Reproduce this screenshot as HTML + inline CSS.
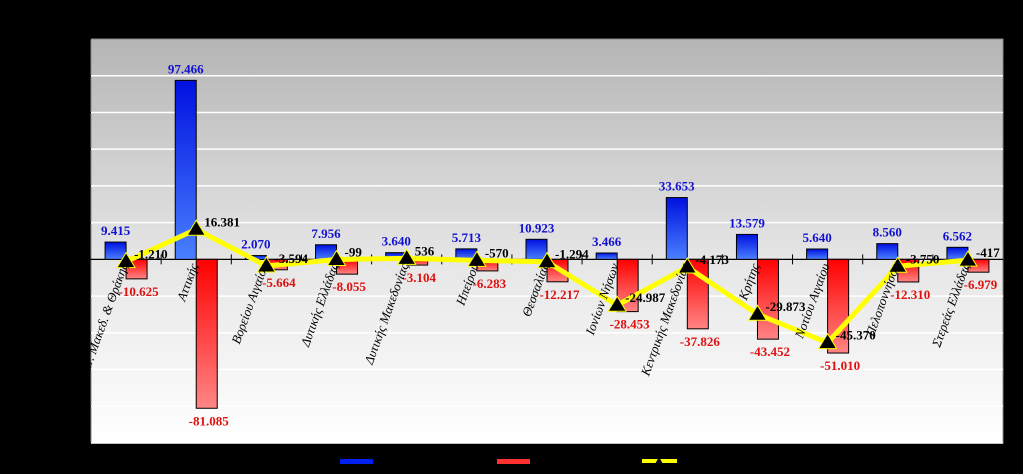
<!DOCTYPE html>
<html><head><meta charset="utf-8"><style>
html,body{margin:0;padding:0;background:#000;}
svg{display:block;font-family:"Liberation Serif","DejaVu Serif",serif;}
</style></head><body>
<svg id="chart" width="1023" height="474" viewBox="0 0 1023 474">
<defs>
<linearGradient id="bg" x1="0" y1="0" x2="0" y2="1"><stop offset="0" stop-color="#b5b5b5"/><stop offset="0.55" stop-color="#e6e6e6"/><stop offset="1" stop-color="#ffffff"/></linearGradient>
<linearGradient id="gb" x1="0" y1="0" x2="0" y2="1"><stop offset="0" stop-color="#0010e0"/><stop offset="1" stop-color="#4a80ff"/></linearGradient>
<linearGradient id="gr" x1="0" y1="0" x2="0" y2="1"><stop offset="0" stop-color="#ff0000"/><stop offset="1" stop-color="#ff8585"/></linearGradient>
</defs>
<rect x="91" y="39" width="912" height="404" fill="url(#bg)" stroke="#888"/>
<g id="grid"></g><g id="bars"></g><g id="line"></g><g id="labels"></g>
<g>
<rect x="340" y="459" width="33" height="5" fill="#0020f0"/>
<rect x="497" y="459" width="33" height="5" fill="#ff3030"/>
<rect x="642" y="459" width="35" height="4" fill="#ffff00"/>
<polygon points="659,457 655,464 663,464" fill="#000"/>
</g>
</svg>
<script>
const categories=["Αν. Μακεδ. & Θράκης","Αττικής","Βορείου Αιγαίου","Δυτικής Ελλάδας","Δυτικής Μακεδονίας","Ηπείρου","Θεσσαλίας","Ιονίων Νήσων","Κεντρικής Μακεδονίας","Κρήτης","Νοτίου Αιγαίου","Πελοποννήσου","Στερεάς Ελλάδας"];
const blueValues=[9415,97466,2070,7956,3640,5713,10923,3466,33653,13579,5640,8560,6562];
const redValues=[-10625,-81085,-5664,-8055,-3104,-6283,-12217,-28453,-37826,-43452,-51010,-12310,-6979];
const lineValues=[-1210,16381,-3594,-99,536,-570,-1294,-24987,-4173,-29873,-45370,-3750,-417];
const yTicks=[120000,100000,80000,60000,40000,20000,0,-20000,-40000,-60000,-80000,-100000];

const NS="http://www.w3.org/2000/svg";
const X0=91,X1=1003,YT=39,YB=443,VMAX=120000,VMIN=-100000;
const bw=(X1-X0)/categories.length;
function y(v){return YT+(VMAX-v)/(VMAX-VMIN)*(YB-YT);}
function xc(i){return X0+bw*(i+0.5);}
function fmt(v){const s=Math.abs(v).toString().replace(/\B(?=(\d{3})+(?!\d))/g,".");return (v<0?"-":"")+s;}
function mk(tag,attrs,parent){const e=document.createElementNS(NS,tag);for(const k in attrs)e.setAttribute(k,attrs[k]);parent.appendChild(e);return e;}
const grid=document.getElementById('grid'),bars=document.getElementById('bars'),line=document.getElementById('line'),labels=document.getElementById('labels');
yTicks.forEach(t=>{
  if(t!==0&&t<VMAX){const g=mk('line',{x1:X0,x2:X1,y1:y(t),y2:y(t),stroke:'#fff','stroke-width':1.5},grid);
  
  }
  const tk=mk('line',{x1:X0-5,x2:X0,y1:y(t),y2:y(t),stroke:'#000'},grid);
  
  
});
const z=mk('line',{x1:X0,x2:X1,y1:y(0),y2:y(0),stroke:'#000','stroke-width':1.2},grid);


for(let i=1;i<categories.length;i++){const t=mk('line',{x1:X0+bw*i,x2:X0+bw*i,y1:y(0)-5,y2:y(0)+5,stroke:'#000'},grid);

}
const w=21;
categories.forEach((c,i)=>{
  const cx=xc(i);
  const b=mk('rect',{x:cx-w,y:y(blueValues[i]),width:w,height:y(0)-y(blueValues[i]),fill:'url(#gb)',stroke:'#000','stroke-width':1},bars);
  
  
  const r=mk('rect',{x:cx,y:y(0),width:w,height:y(redValues[i])-y(0),fill:'url(#gr)',stroke:'#000','stroke-width':1},bars);
  
  
  const bl=mk('text',{x:cx-w/2,y:y(blueValues[i])-7,'text-anchor':'middle',fill:'#1010d0','font-size':13,'font-weight':'bold'},labels);
  bl.textContent=fmt(blueValues[i]);
  
  
  const rl=mk('text',{x:cx+w/2+2,y:y(redValues[i])+17,'text-anchor':'middle',fill:'#e01010','font-size':13,'font-weight':'bold'},labels);
  rl.textContent=fmt(redValues[i]);
  
  
  const cl=mk('text',{x:cx+2,y:y(0)+6,'text-anchor':'end',fill:'#000','font-size':13,'font-style':'italic',transform:'rotate(-70 '+(cx+2)+' '+(y(0)+6)+')'},labels);
  cl.textContent=c;
  
  
});
const pts=lineValues.map((v,i)=>xc(i)+','+y(v)).join(' ');
const pl=mk('polyline',{points:pts,fill:'none',stroke:'#ffff00','stroke-width':5,'stroke-linejoin':'round'},line);


lineValues.forEach((v,i)=>{
  const cx=xc(i),cy=y(v);
  const m=mk('polygon',{points:(cx)+','+(cy-9)+' '+(cx-9)+','+(cy+6)+' '+(cx+9)+','+(cy+6),fill:'#000',stroke:'#ffff00','stroke-width':1},line);
  
  
  const t=mk('text',{x:cx+8,y:cy-3,fill:'#000','font-size':13,'font-weight':'bold'},labels);
  t.textContent=fmt(v);
  
  
});
</script>
</body></html>
